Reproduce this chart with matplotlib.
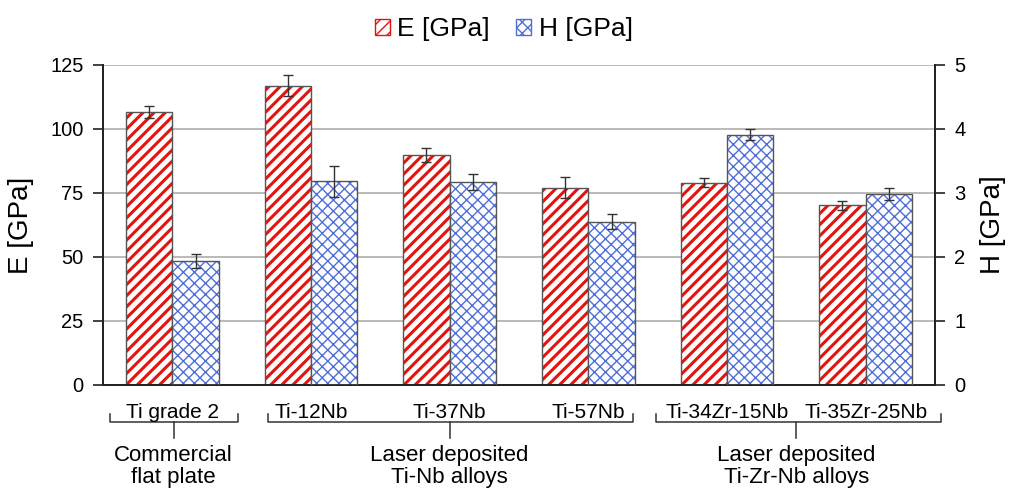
import numpy as np
import matplotlib
matplotlib.use("Agg")
import matplotlib.pyplot as plt
from matplotlib.patches import Patch

plt.rcParams['font.family'] = ['Liberation Sans', 'DejaVu Sans']

# data
alloys = ["Ti grade 2", "Ti-12Nb", "Ti-37Nb", "Ti-57Nb", "Ti-34Zr-15Nb", "Ti-35Zr-25Nb"]
E_gpa = [106.6, 116.9, 89.8, 77.0, 78.9, 70.2]
E_err = [2.4, 4.0, 2.6, 4.2, 1.8, 1.7]
H_gpa = [1.94, 3.18, 3.17, 2.55, 3.91, 2.98]
H_err = [0.11, 0.24, 0.12, 0.12, 0.08, 0.09]

groups = ["Commercial\nflat plate", "Laser deposited\nTi-Nb alloys", "Laser deposited\nTi-Zr-Nb alloys"]
group_span = [(-0.45, 0.47), (0.69, 3.32), (3.49, 5.54)]
group_mid = [0.01, 2.0, 4.5]

red = '#e3140f'
blue = '#4f6fd8'
edge = '#555555'

fig = plt.figure(figsize=(10.14, 4.91), dpi=100)
ax = fig.add_axes([0.1016, 0.216, 0.8205, 0.652])
ax2 = ax.twinx()

x = np.arange(len(alloys))
w = 0.335

plt.rcParams['hatch.linewidth'] = 2.2
ax.bar(x - w/2, E_gpa, w, color='white', edgecolor=red, hatch='///', linewidth=0, zorder=2)
ax.bar(x - w/2, E_gpa, w, fill=False, edgecolor=edge, linewidth=1, zorder=3)
ax.errorbar(x - w/2, E_gpa, yerr=E_err, fmt='none', ecolor='#333333', elinewidth=1, capsize=3.5, zorder=4)

plt.rcParams['hatch.linewidth'] = 1.0
ax2.bar(x + w/2, H_gpa, w, color='white', edgecolor=blue, hatch='xxx', linewidth=0, zorder=2)
ax2.bar(x + w/2, H_gpa, w, fill=False, edgecolor=edge, linewidth=1, zorder=3)
ax2.errorbar(x + w/2, H_gpa, yerr=H_err, fmt='none', ecolor='#333333', elinewidth=1, capsize=3.5, zorder=4)

ax.set_xlim(-0.5, 5.5)
ax.set_ylim(0, 125)
ax2.set_ylim(0, 5)
ax.set_yticks([0, 25, 50, 75, 100, 125])
ax2.set_yticks([0, 1, 2, 3, 4, 5])
ax.set_xticks([])
ax.set_axisbelow(True)
ax.yaxis.grid(True, color='#b4b4b4', linewidth=1.3)

for a in (ax, ax2):
    a.spines['top'].set_visible(False)
    for s in ('left', 'right', 'bottom'):
        a.spines[s].set_color('#222222')
        a.spines[s].set_linewidth(1.3)
    a.tick_params(axis='y', labelsize=14.5, length=7, width=1.2, color='#222222', pad=7)

ax.set_ylabel("E [GPa]", fontsize=20, labelpad=12)
ax2.set_ylabel("H [GPa]", fontsize=20, labelpad=10)

# category labels and group braces under the axis
tr = ax.get_xaxis_transform()
for i, name in enumerate(alloys):
    ax.text(x[i], -0.085, name, transform=tr, ha='center', va='center', fontsize=15)

for (x0, x1), xm, g in zip(group_span, group_mid, groups):
    ax.plot([x0, x0, x1, x1], [-0.09, -0.115, -0.115, -0.09], transform=tr, color='#333333', lw=1.1, clip_on=False)
    ax.plot([xm, xm], [-0.115, -0.165], transform=tr, color='#333333', lw=1.1, clip_on=False)
    ax.text(xm, -0.255, g, transform=tr, ha='center', va='center', fontsize=16, linespacing=1.1)

plt.rcParams['hatch.linewidth'] = 2.2
hE = Patch(facecolor='white', edgecolor=red, hatch='///', label='E [GPa]')
plt.rcParams['hatch.linewidth'] = 1.0
hH = Patch(facecolor='white', edgecolor=blue, hatch='xxx', label='H [GPa]')
fig.legend(handles=[hE, hH], loc='center', bbox_to_anchor=(0.497, 0.94), ncol=2, frameon=False,
           fontsize=19, handlelength=0.55, handleheight=0.55, handletextpad=0.3, columnspacing=1.0)

fig.savefig("out.png", dpi=100)
